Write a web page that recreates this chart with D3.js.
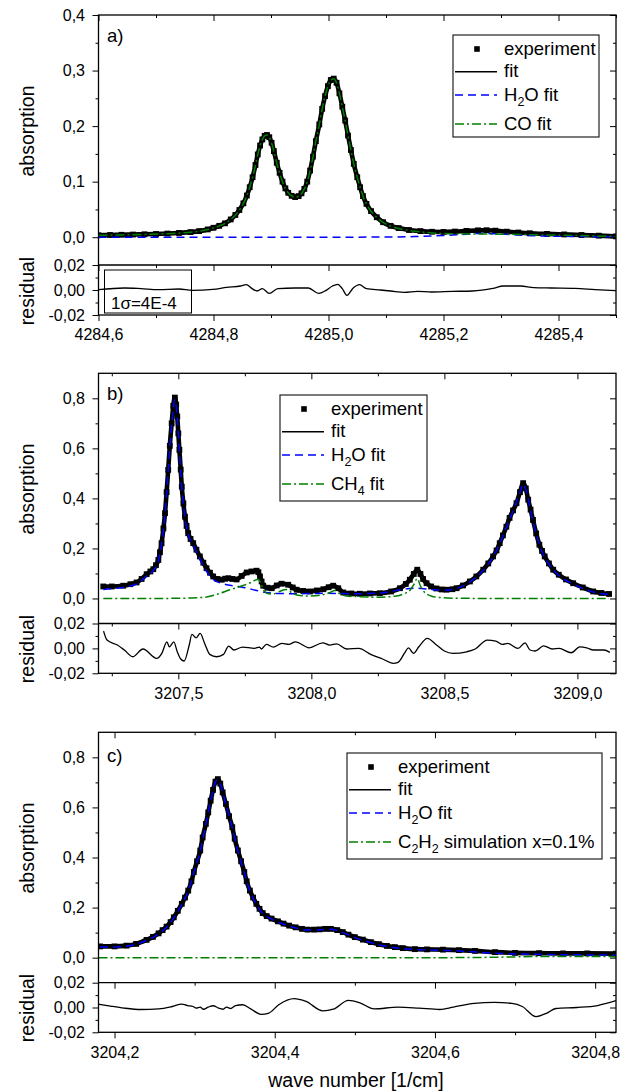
<!DOCTYPE html>
<html>
<head>
<meta charset="utf-8">
<script src="https://cdn.jsdelivr.net/npm/d3@7"></script>
<style>
  body { margin: 0; background: #fff; }
  svg text { font-family: "Liberation Sans", Arial, sans-serif; fill: #000; }
</style>
</head>
<body>
<svg id="chart" width="625" height="1091"></svg>
<script>
// ---------- Panel a: CO band near 4285 cm-1 ----------
const absorbA = [[4284.600,0.0036],[4284.620,0.0040],[4284.640,0.0044],[4284.660,0.0048],[4284.680,0.0053],[4284.700,0.0058],[4284.720,0.0066],[4284.740,0.0077],[4284.760,0.0092],[4284.775,0.0110],[4284.790,0.0140],[4284.800,0.0170],[4284.810,0.0205],[4284.820,0.0250],[4284.830,0.0320],[4284.838,0.0400],[4284.845,0.0490],[4284.852,0.0610],[4284.858,0.0750],[4284.863,0.0900],[4284.868,0.1080],[4284.873,0.1300],[4284.877,0.1490],[4284.881,0.1650],[4284.885,0.1760],[4284.889,0.1825],[4284.893,0.1840],[4284.897,0.1800],[4284.901,0.1700],[4284.905,0.1550],[4284.910,0.1340],[4284.915,0.1160],[4284.920,0.1000],[4284.925,0.0880],[4284.930,0.0800],[4284.936,0.0745],[4284.942,0.0722],[4284.948,0.0740],[4284.953,0.0790],[4284.958,0.0870],[4284.963,0.1000],[4284.968,0.1200],[4284.973,0.1450],[4284.978,0.1730],[4284.984,0.2030],[4284.989,0.2310],[4284.994,0.2540],[4284.999,0.2720],[4285.004,0.2830],[4285.009,0.2855],[4285.014,0.2780],[4285.019,0.2590],[4285.024,0.2350],[4285.029,0.2100],[4285.034,0.1830],[4285.039,0.1570],[4285.044,0.1320],[4285.050,0.1080],[4285.055,0.0900],[4285.060,0.0740],[4285.066,0.0600],[4285.074,0.0470],[4285.084,0.0360],[4285.095,0.0270],[4285.108,0.0205],[4285.122,0.0165],[4285.140,0.0130],[4285.160,0.0110],[4285.180,0.0098],[4285.200,0.0095],[4285.220,0.0102],[4285.240,0.0114],[4285.260,0.0124],[4285.275,0.0126],[4285.290,0.0118],[4285.310,0.0100],[4285.330,0.0085],[4285.350,0.0072],[4285.380,0.0060],[4285.410,0.0050],[4285.440,0.0040],[4285.470,0.0028],[4285.500,0.0015]];
const h2oA = [[4284.600,0.0000],[4284.900,0.0000],[4285.100,0.0003],[4285.150,0.0012],[4285.200,0.0030],[4285.240,0.0055],[4285.265,0.0068],[4285.290,0.0062],[4285.320,0.0045],[4285.360,0.0026],[4285.420,0.0015],[4285.500,0.0008]];
const coA = [[4284.600,0.0034],[4284.640,0.0042],[4284.680,0.0051],[4284.720,0.0064],[4284.760,0.0090],[4284.790,0.0138],[4284.810,0.0203],[4284.830,0.0318],[4284.845,0.0488],[4284.852,0.0608],[4284.858,0.0748],[4284.863,0.0898],[4284.868,0.1078],[4284.873,0.1298],[4284.877,0.1488],[4284.881,0.1648],[4284.885,0.1758],[4284.889,0.1823],[4284.893,0.1838],[4284.897,0.1798],[4284.901,0.1698],[4284.905,0.1548],[4284.910,0.1338],[4284.915,0.1158],[4284.920,0.0998],[4284.925,0.0878],[4284.930,0.0798],[4284.936,0.0743],[4284.942,0.0720],[4284.948,0.0738],[4284.953,0.0788],[4284.958,0.0868],[4284.963,0.0998],[4284.968,0.1198],[4284.973,0.1448],[4284.978,0.1728],[4284.984,0.2028],[4284.989,0.2308],[4284.994,0.2538],[4284.999,0.2718],[4285.004,0.2828],[4285.009,0.2853],[4285.014,0.2778],[4285.019,0.2588],[4285.024,0.2348],[4285.029,0.2098],[4285.034,0.1828],[4285.039,0.1568],[4285.044,0.1318],[4285.050,0.1078],[4285.055,0.0898],[4285.060,0.0738],[4285.066,0.0598],[4285.074,0.0468],[4285.084,0.0357],[4285.095,0.0267],[4285.108,0.0200],[4285.122,0.0158],[4285.140,0.0122],[4285.160,0.0095],[4285.180,0.0077],[4285.200,0.0066],[4285.220,0.0060],[4285.250,0.0057],[4285.280,0.0056],[4285.310,0.0053],[4285.350,0.0046],[4285.400,0.0037],[4285.450,0.0028],[4285.500,0.0012]];
const residA = [[4284.600,0.0003],[4284.645,0.0016],[4284.674,0.0011],[4284.704,0.0003],[4284.740,0.0008],[4284.763,-0.0003],[4284.799,0.0005],[4284.823,0.0021],[4284.847,0.0032],[4284.857,0.0043],[4284.867,0.0011],[4284.876,-0.0008],[4284.885,0.0011],[4284.897,-0.0027],[4284.912,0.0011],[4284.942,0.0016],[4284.965,0.0016],[4284.983,-0.0027],[4284.995,-0.0005],[4285.007,0.0032],[4285.016,0.0045],[4285.024,0.0011],[4285.032,-0.0043],[4285.043,0.0016],[4285.054,0.0043],[4285.066,0.0011],[4285.090,0.0000],[4285.108,-0.0008],[4285.132,-0.0019],[4285.155,-0.0011],[4285.179,-0.0016],[4285.215,-0.0011],[4285.250,-0.0008],[4285.286,0.0013],[4285.304,0.0032],[4285.334,0.0032],[4285.357,0.0019],[4285.387,0.0016],[4285.429,0.0013],[4285.464,0.0003],[4285.500,-0.0005]];

// ---------- Panel b: H2O / CH4 near 3208 cm-1 ----------
const absorbB = [[3207.218,0.048],[3207.250,0.048],[3207.293,0.051],[3207.320,0.057],[3207.343,0.064],[3207.362,0.078],[3207.381,0.097],[3207.395,0.108],[3207.406,0.117],[3207.416,0.133],[3207.425,0.154],[3207.431,0.185],[3207.437,0.221],[3207.444,0.280],[3207.450,0.341],[3207.456,0.425],[3207.462,0.514],[3207.468,0.610],[3207.475,0.700],[3207.481,0.770],[3207.487,0.803],[3207.492,0.775],[3207.496,0.727],[3207.500,0.660],[3207.504,0.594],[3207.509,0.515],[3207.513,0.447],[3207.519,0.380],[3207.525,0.327],[3207.531,0.290],[3207.537,0.261],[3207.546,0.238],[3207.556,0.221],[3207.568,0.195],[3207.581,0.168],[3207.594,0.143],[3207.606,0.121],[3207.619,0.103],[3207.631,0.088],[3207.647,0.078],[3207.663,0.075],[3207.676,0.079],[3207.688,0.081],[3207.703,0.078],[3207.719,0.076],[3207.738,0.090],[3207.757,0.104],[3207.775,0.108],[3207.794,0.111],[3207.801,0.105],[3207.807,0.088],[3207.813,0.068],[3207.819,0.051],[3207.835,0.043],[3207.851,0.041],[3207.870,0.052],[3207.888,0.059],[3207.913,0.055],[3207.930,0.044],[3207.945,0.035],[3207.970,0.030],[3207.995,0.028],[3208.020,0.032],[3208.045,0.037],[3208.065,0.045],[3208.082,0.051],[3208.101,0.041],[3208.120,0.024],[3208.150,0.020],[3208.182,0.019],[3208.220,0.020],[3208.257,0.021],[3208.300,0.028],[3208.333,0.041],[3208.355,0.058],[3208.370,0.075],[3208.385,0.098],[3208.398,0.115],[3208.410,0.098],[3208.420,0.078],[3208.433,0.061],[3208.450,0.048],[3208.470,0.040],[3208.490,0.036],[3208.508,0.035],[3208.530,0.037],[3208.546,0.041],[3208.570,0.052],[3208.596,0.068],[3208.620,0.088],[3208.646,0.115],[3208.665,0.140],[3208.683,0.168],[3208.696,0.192],[3208.708,0.221],[3208.720,0.252],[3208.733,0.287],[3208.745,0.322],[3208.758,0.352],[3208.771,0.381],[3208.784,0.425],[3208.796,0.461],[3208.806,0.440],[3208.815,0.395],[3208.824,0.355],[3208.833,0.314],[3208.845,0.260],[3208.857,0.215],[3208.867,0.190],[3208.877,0.168],[3208.893,0.140],[3208.909,0.115],[3208.930,0.095],[3208.957,0.076],[3208.984,0.061],[3209.020,0.044],[3209.059,0.028],[3209.090,0.022],[3209.119,0.018]];
const h2oB = [[3207.218,0.036],[3207.260,0.040],[3207.300,0.046],[3207.343,0.058],[3207.381,0.090],[3207.406,0.112],[3207.425,0.150],[3207.437,0.218],[3207.450,0.338],[3207.462,0.510],[3207.475,0.695],[3207.487,0.795],[3207.496,0.722],[3207.504,0.590],[3207.513,0.444],[3207.525,0.322],[3207.537,0.255],[3207.556,0.214],[3207.581,0.158],[3207.606,0.108],[3207.631,0.076],[3207.663,0.060],[3207.706,0.051],[3207.750,0.043],[3207.790,0.033],[3207.830,0.024],[3207.870,0.020],[3207.950,0.019],[3208.050,0.021],[3208.150,0.019],[3208.250,0.021],[3208.300,0.028],[3208.333,0.035],[3208.370,0.040],[3208.400,0.041],[3208.433,0.038],[3208.470,0.034],[3208.508,0.034],[3208.546,0.040],[3208.596,0.066],[3208.646,0.113],[3208.683,0.166],[3208.708,0.219],[3208.733,0.285],[3208.758,0.350],[3208.784,0.423],[3208.796,0.458],[3208.806,0.437],[3208.824,0.352],[3208.845,0.257],[3208.867,0.187],[3208.893,0.137],[3208.930,0.092],[3208.984,0.058],[3209.059,0.026],[3209.119,0.016]];
const ch4B = [[3207.218,0.000],[3207.400,0.000],[3207.550,0.002],[3207.606,0.006],[3207.644,0.016],[3207.694,0.035],[3207.744,0.052],[3207.775,0.065],[3207.800,0.077],[3207.810,0.060],[3207.820,0.035],[3207.835,0.020],[3207.855,0.018],[3207.880,0.028],[3207.905,0.036],[3207.925,0.024],[3207.945,0.014],[3207.990,0.010],[3208.040,0.014],[3208.070,0.024],[3208.088,0.032],[3208.105,0.020],[3208.130,0.010],[3208.180,0.007],[3208.250,0.005],[3208.320,0.010],[3208.350,0.020],[3208.370,0.032],[3208.385,0.055],[3208.398,0.080],[3208.410,0.050],[3208.425,0.025],[3208.450,0.010],[3208.480,0.004],[3208.550,0.001],[3208.700,0.000],[3209.119,0.000]];
const residB = [[3207.219,0.0139],[3207.232,0.0067],[3207.271,0.0027],[3207.297,-0.0013],[3207.329,-0.0067],[3207.367,-0.0005],[3207.419,-0.0080],[3207.438,-0.0040],[3207.457,0.0053],[3207.466,0.0013],[3207.483,0.0053],[3207.496,-0.0027],[3207.509,-0.0085],[3207.522,-0.0101],[3207.541,0.0027],[3207.551,0.0112],[3207.567,0.0085],[3207.582,0.0120],[3207.599,0.0040],[3207.618,-0.0048],[3207.644,-0.0067],[3207.670,-0.0048],[3207.689,0.0019],[3207.709,-0.0013],[3207.741,0.0011],[3207.786,0.0000],[3207.805,0.0011],[3207.812,-0.0005],[3207.831,0.0032],[3207.857,0.0011],[3207.889,0.0040],[3207.915,0.0032],[3207.940,0.0053],[3207.992,0.0005],[3208.043,0.0045],[3208.069,0.0027],[3208.095,0.0037],[3208.133,-0.0005],[3208.178,0.0000],[3208.223,-0.0048],[3208.268,-0.0085],[3208.307,-0.0120],[3208.326,-0.0112],[3208.352,-0.0032],[3208.365,0.0005],[3208.384,-0.0040],[3208.404,0.0013],[3208.436,0.0080],[3208.468,0.0032],[3208.500,-0.0021],[3208.532,-0.0040],[3208.584,-0.0027],[3208.616,-0.0005],[3208.661,0.0067],[3208.693,0.0059],[3208.719,0.0032],[3208.738,0.0040],[3208.777,0.0000],[3208.803,0.0045],[3208.822,-0.0013],[3208.841,-0.0021],[3208.873,0.0021],[3208.906,-0.0005],[3208.931,0.0000],[3208.977,-0.0035],[3209.009,0.0013],[3209.035,0.0005],[3209.060,-0.0013],[3209.099,-0.0013],[3209.122,-0.0032]];

// ---------- Panel c: H2O line near 3204.3 cm-1, C2H2 simulation ----------
const absorbC = [[3204.182,0.045],[3204.200,0.045],[3204.215,0.048],[3204.227,0.055],[3204.240,0.071],[3204.248,0.083],[3204.255,0.097],[3204.260,0.110],[3204.265,0.124],[3204.270,0.142],[3204.274,0.161],[3204.279,0.187],[3204.284,0.215],[3204.288,0.240],[3204.292,0.268],[3204.296,0.305],[3204.299,0.342],[3204.303,0.385],[3204.307,0.428],[3204.310,0.480],[3204.314,0.534],[3204.317,0.580],[3204.320,0.627],[3204.323,0.670],[3204.326,0.703],[3204.329,0.713],[3204.332,0.695],[3204.335,0.660],[3204.339,0.614],[3204.343,0.565],[3204.347,0.521],[3204.350,0.475],[3204.354,0.428],[3204.358,0.385],[3204.362,0.342],[3204.365,0.305],[3204.369,0.268],[3204.373,0.240],[3204.377,0.215],[3204.381,0.195],[3204.385,0.178],[3204.390,0.166],[3204.396,0.156],[3204.404,0.145],[3204.411,0.136],[3204.418,0.128],[3204.426,0.121],[3204.434,0.115],[3204.441,0.112],[3204.449,0.112],[3204.456,0.113],[3204.463,0.115],[3204.470,0.115],[3204.478,0.110],[3204.485,0.102],[3204.492,0.092],[3204.500,0.082],[3204.510,0.072],[3204.520,0.062],[3204.530,0.054],[3204.540,0.047],[3204.550,0.042],[3204.560,0.038],[3204.575,0.034],[3204.590,0.033],[3204.610,0.032],[3204.630,0.030],[3204.650,0.027],[3204.675,0.022],[3204.700,0.019],[3204.730,0.018],[3204.760,0.017],[3204.790,0.017],[3204.826,0.016]];
const h2oC = [[3204.182,0.043],[3204.200,0.043],[3204.215,0.046],[3204.227,0.053],[3204.240,0.069],[3204.255,0.095],[3204.265,0.122],[3204.274,0.159],[3204.284,0.213],[3204.292,0.266],[3204.299,0.340],[3204.307,0.426],[3204.314,0.532],[3204.320,0.625],[3204.326,0.702],[3204.329,0.711],[3204.332,0.693],[3204.339,0.612],[3204.347,0.519],[3204.354,0.426],[3204.362,0.340],[3204.369,0.266],[3204.377,0.213],[3204.385,0.176],[3204.396,0.154],[3204.411,0.134],[3204.426,0.119],[3204.441,0.110],[3204.456,0.111],[3204.470,0.113],[3204.485,0.100],[3204.500,0.080],[3204.520,0.060],[3204.540,0.045],[3204.560,0.036],[3204.590,0.031],[3204.630,0.027],[3204.675,0.018],[3204.730,0.013],[3204.790,0.011],[3204.826,0.010]];
const c2h2C = [[3204.180,0.000],[3204.600,0.000],[3204.660,0.001],[3204.700,0.003],[3204.740,0.005],[3204.780,0.005],[3204.826,0.004]];
const residC = [[3204.180,0.0027],[3204.195,0.0011],[3204.212,-0.0005],[3204.233,-0.0016],[3204.255,-0.0011],[3204.272,0.0008],[3204.284,0.0027],[3204.291,0.0016],[3204.298,0.0008],[3204.302,-0.0005],[3204.307,0.0003],[3204.311,-0.0014],[3204.317,0.0003],[3204.323,0.0014],[3204.330,-0.0005],[3204.335,-0.0014],[3204.340,0.0003],[3204.345,-0.0008],[3204.351,0.0016],[3204.360,0.0022],[3204.370,-0.0011],[3204.383,-0.0055],[3204.392,-0.0047],[3204.405,0.0022],[3204.424,0.0071],[3204.439,0.0049],[3204.460,-0.0027],[3204.473,-0.0014],[3204.492,0.0058],[3204.507,0.0036],[3204.524,-0.0011],[3204.554,0.0003],[3204.580,-0.0005],[3204.606,-0.0016],[3204.623,0.0003],[3204.649,0.0033],[3204.674,0.0041],[3204.696,0.0033],[3204.709,0.0008],[3204.726,-0.0074],[3204.739,-0.0047],[3204.751,-0.0008],[3204.777,0.0000],[3204.803,0.0016],[3204.826,0.0055]];

// ---------- Tick values ----------
const xTicksA = [4284.6, 4284.8, 4285.0, 4285.2, 4285.4];
const xMinorA = [4284.7, 4284.9, 4285.1, 4285.3, 4285.5];
const xTicksB = [3207.5, 3208.0, 3208.5, 3209.0];
const xMinorB = [3207.25, 3207.75, 3208.25, 3208.75];
const xTicksC = [3204.2, 3204.4, 3204.6, 3204.8];
const xMinorC = [3204.3, 3204.5, 3204.7];
const yTicksA = [0, 0.1, 0.2, 0.3, 0.4];
const yMinorA = [-0.05, 0.05, 0.15, 0.25, 0.35];
const yTicksBC = [0, 0.2, 0.4, 0.6, 0.8];
const yMinorBC = [0.1, 0.3, 0.5, 0.7];
const resTicks = [-0.02, 0, 0.02];
const resMinor = [-0.01, 0.01];

// ---------- Legend texts ("_" marks a subscript digit) ----------
const legendA = ["experiment", "fit", "H_2O fit", "CO fit"];
const legendB = ["experiment", "fit", "H_2O fit", "CH_4 fit"];
const legendC = ["experiment", "fit", "H_2O fit", "C_2H_2 simulation x=0.1%"];

// ---------- Drawing ----------
const svg = d3.select("#chart");
const loc = d3.formatLocale({decimal: ",", thousands: ".", grouping: [3], currency: ["", ""], minus: "-"});
const f1 = loc.format(".1f"), f2 = loc.format(".2f");

const LEFT = 98.5, RIGHT = 616;
const BLUE = "#0000ff", GREEN = "#008000";
const DASH = "8,5", DASHDOT = "9,3,2,3";

const panels = [
  { key: "a", top: 15, split: 265, bottom: 315, xDomain: [4284.6, 4285.5], yDomain: [-0.05, 0.4],
    xTicks: xTicksA, xMinor: xMinorA, yTicks: yTicksA, yMinor: yMinorA,
    meas: absorbA, h2o: h2oA, other: coA, resid: residA,
    legend: { x: 453, y: 35, w: 146, h: 102, items: legendA },
    absTitleY: 131, resTitleY: 291, label: "a)", labelY: 42, sigma: true },
  { key: "b", top: 373.3, split: 623.5, bottom: 673.3, xDomain: [3207.2, 3209.145], yDomain: [-0.1, 0.9],
    xTicks: xTicksB, xMinor: xMinorB, yTicks: yTicksBC, yMinor: yMinorBC,
    meas: absorbB, h2o: h2oB, other: ch4B, resid: residB,
    legend: { x: 280, y: 395, w: 147, h: 106, items: legendB },
    absTitleY: 489, resTitleY: 649, label: "b)", labelY: 400, sigma: false },
  { key: "c", top: 732.3, split: 982.7, bottom: 1032.3, xDomain: [3204.18, 3204.826], yDomain: [-0.1, 0.9],
    xTicks: xTicksC, xMinor: xMinorC, yTicks: yTicksBC, yMinor: yMinorBC,
    meas: absorbC, h2o: h2oC, other: c2h2C, resid: residC,
    legend: { x: 347, y: 753, w: 255, h: 106, items: legendC },
    absTitleY: 848, resTitleY: 1008, label: "c)", labelY: 762, sigma: false }
];

function styleAxis(g, fontSize) {
  g.select(".domain").remove();
  g.selectAll(".tick line").attr("stroke", "#000").attr("stroke-width", 1);
  g.selectAll(".tick text").attr("font-size", fontSize).attr("font-family", "Liberation Sans, Arial, sans-serif").attr("fill", "#000");
}

function addAxis(g, axis, tx, ty) {
  const a = g.append("g").attr("transform", `translate(${tx},${ty})`).call(axis);
  styleAxis(a, 16);
  return a;
}

// text with single-digit subscripts written as "_n"
function richText(sel, str, size, subSize) {
  const parts = str.split(/_(\d)/);
  parts.forEach((p, i) => {
    if (!p) return;
    const isSub = i % 2 === 1;
    const t = sel.append("tspan").text(p).attr("font-size", isSub ? subSize : size);
    if (isSub) t.attr("dy", 5);
    else if (i > 1) t.attr("dy", -5);
  });
}

panels.forEach(p => {
  const g = svg.append("g").attr("class", "panel-" + p.key);
  const x = d3.scaleLinear().domain(p.xDomain).range([LEFT, RIGHT]);
  const y = d3.scaleLinear().domain(p.yDomain).range([p.split, p.top]);
  const yr = d3.scaleLinear().domain([-0.02, 0.02]).range([p.bottom, p.split]);

  // clipping
  const defs = g.append("defs");
  defs.append("clipPath").attr("id", "clip-main-" + p.key)
    .append("rect").attr("x", LEFT).attr("y", p.top).attr("width", RIGHT - LEFT).attr("height", p.split - p.top);
  defs.append("clipPath").attr("id", "clip-res-" + p.key)
    .append("rect").attr("x", LEFT).attr("y", p.split).attr("width", RIGHT - LEFT).attr("height", p.bottom - p.split);

  const line = d3.line().x(d => x(d[0])).y(d => y(d[1])).curve(d3.curveMonotoneX);
  const rline = d3.line().x(d => x(d[0])).y(d => yr(d[1])).curve(d3.curveMonotoneX);

  const main = g.append("g").attr("clip-path", `url(#clip-main-${p.key})`);
  // experiment: square markers along a thick trace
  main.append("path").datum(p.meas).attr("d", line)
    .attr("fill", "none").attr("stroke", "#000").attr("stroke-width", 4.6).attr("stroke-linejoin", "round");
  main.append("g").selectAll("rect").data(p.meas).join("rect")
    .attr("x", d => x(d[0]) - 2.9).attr("y", d => y(d[1]) - 2.9)
    .attr("width", 5.8).attr("height", 5.8).attr("fill", "#000");
  // fit
  main.append("path").datum(p.meas).attr("d", line)
    .attr("fill", "none").attr("stroke", "#000").attr("stroke-width", 1.3);
  // H2O component
  main.append("path").datum(p.h2o).attr("d", line)
    .attr("fill", "none").attr("stroke", BLUE).attr("stroke-width", 1.5).attr("stroke-dasharray", DASH);
  // second species component
  main.append("path").datum(p.other).attr("d", line)
    .attr("fill", "none").attr("stroke", GREEN).attr("stroke-width", 1.5).attr("stroke-dasharray", DASHDOT);

  // residual
  g.append("g").attr("clip-path", `url(#clip-res-${p.key})`)
    .append("path").datum(p.resid).attr("d", rline)
    .attr("fill", "none").attr("stroke", "#000").attr("stroke-width", 1.3);

  // axes: main panel
  addAxis(g, d3.axisLeft(y).tickValues(p.yTicks).tickSize(6).tickPadding(7.5).tickFormat(f1), LEFT, 0);
  addAxis(g, d3.axisLeft(y).tickValues(p.yMinor).tickSize(3).tickFormat(""), LEFT, 0);
  addAxis(g, d3.axisLeft(y).tickValues(p.yTicks).tickSize(6).tickFormat(""), RIGHT, 0);
  addAxis(g, d3.axisLeft(y).tickValues(p.yMinor).tickSize(3).tickFormat(""), RIGHT, 0);
  addAxis(g, d3.axisBottom(x).tickValues(p.xTicks).tickSize(6).tickFormat(""), 0, p.top);
  addAxis(g, d3.axisBottom(x).tickValues(p.xMinor).tickSize(3).tickFormat(""), 0, p.top);

  // axes: residual panel
  addAxis(g, d3.axisLeft(yr).tickValues(resTicks).tickSize(6).tickPadding(7.5).tickFormat(f2), LEFT, 0);
  addAxis(g, d3.axisLeft(yr).tickValues(resMinor).tickSize(3).tickFormat(""), LEFT, 0);
  addAxis(g, d3.axisLeft(yr).tickValues(resTicks).tickSize(6).tickFormat(""), RIGHT, 0);
  addAxis(g, d3.axisLeft(yr).tickValues(resMinor).tickSize(3).tickFormat(""), RIGHT, 0);
  addAxis(g, d3.axisBottom(x).tickValues(p.xTicks).tickSize(6).tickFormat(""), 0, p.split);
  addAxis(g, d3.axisBottom(x).tickValues(p.xMinor).tickSize(3).tickFormat(""), 0, p.split);
  addAxis(g, d3.axisBottom(x).tickValues(p.xTicks).tickSize(6).tickPadding(8).tickFormat(f1), 0, p.bottom);
  addAxis(g, d3.axisBottom(x).tickValues(p.xMinor).tickSize(3).tickFormat(""), 0, p.bottom);

  // frames
  g.append("rect").attr("x", LEFT).attr("y", p.top).attr("width", RIGHT - LEFT).attr("height", p.bottom - p.top)
    .attr("fill", "none").attr("stroke", "#000").attr("stroke-width", 1.3);
  g.append("line").attr("x1", LEFT).attr("x2", RIGHT).attr("y1", p.split).attr("y2", p.split)
    .attr("stroke", "#000").attr("stroke-width", 1.3);

  // panel letter
  g.append("text").attr("x", 107).attr("y", p.labelY).attr("font-size", 18.5).text(p.label);

  // axis titles
  g.append("text").attr("transform", `translate(34,${p.absTitleY}) rotate(-90)`)
    .attr("text-anchor", "middle").attr("font-size", 19.5).text("absorption");
  g.append("text").attr("transform", `translate(34,${p.resTitleY}) rotate(-90)`)
    .attr("text-anchor", "middle").attr("font-size", 19.5).text("residual");

  // standard deviation note
  if (p.sigma) {
    g.append("rect").attr("x", 104.5).attr("y", 270).attr("width", 87).attr("height", 43)
      .attr("fill", "none").attr("stroke", "#000").attr("stroke-width", 1);
    g.append("text").attr("x", 111).attr("y", 309).attr("font-size", 17).text("1σ=4E-4");
  }

  // legend
  const L = p.legend;
  const lg = g.append("g");
  lg.append("rect").attr("x", L.x).attr("y", L.y).attr("width", L.w).attr("height", L.h)
    .attr("fill", "#fff").attr("stroke", "#222").attr("stroke-width", 1.2);
  const symY = [14, 36.7, 60, 89];
  const baseY = [20, 42.3, 66, 95];
  L.items.forEach((item, i) => {
    const sy = L.y + symY[i];
    if (i === 0) {
      lg.append("rect").attr("x", L.x + 24 - 2.8).attr("y", sy - 2.8).attr("width", 5.6).attr("height", 5.6).attr("fill", "#000");
    } else {
      const ln = lg.append("line").attr("x1", L.x + 2).attr("x2", L.x + 44).attr("y1", sy).attr("y2", sy)
        .attr("stroke-width", 1.5);
      if (i === 1) ln.attr("stroke", "#000");
      if (i === 2) ln.attr("stroke", BLUE).attr("stroke-dasharray", DASH);
      if (i === 3) ln.attr("stroke", GREEN).attr("stroke-dasharray", DASHDOT);
    }
    const t = lg.append("text").attr("x", L.x + 51).attr("y", L.y + baseY[i]).attr("font-size", 18.5);
    richText(t, item, 18.5, 12.5);
  });
});

// shared x title
svg.append("text").attr("x", 356).attr("y", 1087).attr("text-anchor", "middle")
  .attr("font-size", 19.5).text("wave number [1/cm]");
</script>
</body>
</html>
